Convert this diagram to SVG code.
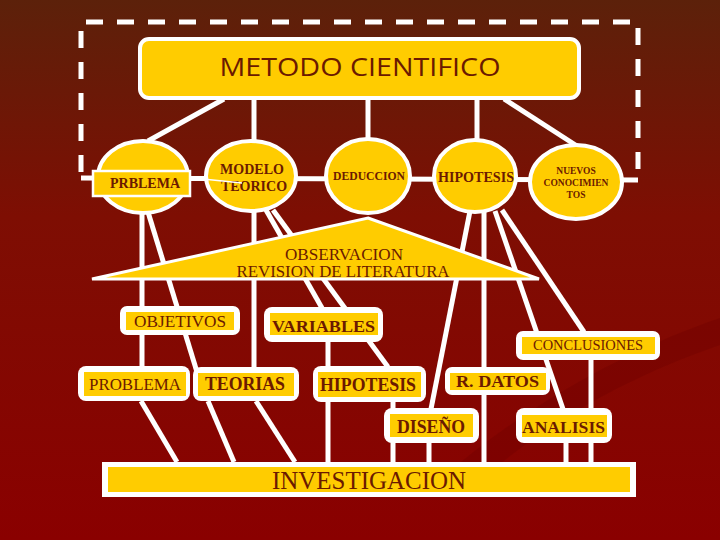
<svg xmlns="http://www.w3.org/2000/svg" width="720" height="540" viewBox="0 0 720 540">
<defs>
<linearGradient id="bg" x1="0" y1="0" x2="0" y2="1">
<stop offset="0" stop-color="#5C210A"/>
<stop offset="0.4" stop-color="#7E0E03"/>
<stop offset="1" stop-color="#8A0000"/>
</linearGradient>
<style>
.ln{stroke:#FFFFFF;stroke-width:5;fill:none}
.ell{fill:#FFCC00;stroke:#FFFFFF;stroke-width:4}
.out{fill:#FFFFFF}
.inn{fill:#FFCC00}
.t{font-family:"Liberation Serif","Times New Roman",serif;fill:#6B1A00;text-anchor:middle}
.b{font-weight:bold}
</style>
</defs>
<rect x="0" y="0" width="720" height="540" fill="url(#bg)"/>
<path d="M 440,480 C 530,400 640,345 720,318 L 720,345 C 640,372 545,420 470,490 Z" fill="#6E0000" opacity="0.35"/>

<path d="M 81,172 V 22 H 638 V 175" fill="none" stroke="#FFFFFF" stroke-width="5" stroke-dasharray="17 14"/>

<g id="connectors">
<line class="ln" x1="81" y1="178" x2="638" y2="180"/>
<line class="ln" x1="224" y1="99" x2="148" y2="141"/>
<line class="ln" x1="254" y1="99" x2="254" y2="141"/>
<line class="ln" x1="368" y1="99" x2="368" y2="140"/>
<line class="ln" x1="477" y1="99" x2="477" y2="140"/>
<line class="ln" x1="504" y1="99" x2="577" y2="146"/>
<line class="ln" x1="142" y1="212" x2="142" y2="367"/>
<line class="ln" x1="148" y1="212" x2="197" y2="372"/>
<line class="ln" x1="254" y1="210" x2="254" y2="368"/>
<line class="ln" x1="266" y1="210" x2="322" y2="308"/>
<line class="ln" x1="273" y1="210" x2="388" y2="367"/>
<line class="ln" x1="328" y1="342" x2="328" y2="462"/>
<line class="ln" x1="393" y1="402" x2="393" y2="462"/>
<line class="ln" x1="470" y1="211" x2="431" y2="409"/>
<line class="ln" x1="429" y1="443" x2="429" y2="462"/>
<line class="ln" x1="484" y1="211" x2="484" y2="462"/>
<line class="ln" x1="495" y1="211" x2="563" y2="409"/>
<line class="ln" x1="502" y1="210" x2="584" y2="332"/>
<line class="ln" x1="591" y1="360" x2="591" y2="462"/>
<line class="ln" x1="566" y1="443" x2="566" y2="462"/>
<line class="ln" x1="141" y1="401" x2="177" y2="462"/>
<line class="ln" x1="208" y1="401" x2="234" y2="462"/>
<line class="ln" x1="256" y1="401" x2="295" y2="462"/>
</g>

<g id="metodo">
<rect x="140" y="39" width="439" height="59" rx="9" fill="#FFCC00" stroke="#FFFFFF" stroke-width="4"/>
<text x="360" y="76" font-family="'Open Sans','Noto Sans',sans-serif" font-size="25" fill="#6B1A00" text-anchor="middle" textLength="281" lengthAdjust="spacingAndGlyphs">METODO CIENTIFICO</text>
</g>

<g id="prblema">
<ellipse class="ell" cx="143" cy="177" rx="45" ry="36"/>
<rect x="93" y="171" width="97" height="25" fill="#FFCC00" stroke="#FFFFFF" stroke-width="2.5"/>
<text class="t b" x="145" y="188" font-size="14">PRBLEMA</text>
</g>

<g id="modelo">
<ellipse class="ell" cx="251" cy="176" rx="45" ry="35"/>
<text class="t b" x="252" y="174" font-size="14">MODELO</text>
<text class="t b" x="254" y="191" font-size="14">TEORICO</text>
<line x1="193" y1="178" x2="242" y2="183" stroke="#FFFFFF" stroke-width="1.5"/>
</g>

<g id="deduccion">
<ellipse class="ell" cx="368" cy="176" rx="42" ry="37"/>
<text class="t b" x="369" y="180" font-size="12" textLength="72" lengthAdjust="spacingAndGlyphs">DEDUCCION</text>
</g>

<g id="hipotesis1">
<ellipse class="ell" cx="475" cy="176" rx="41" ry="36"/>
<text class="t b" x="476" y="182" font-size="14" textLength="76" lengthAdjust="spacingAndGlyphs">HIPOTESIS</text>
</g>

<g id="nuevos">
<ellipse class="ell" cx="576" cy="182" rx="46" ry="37"/>
<text class="t b" x="576" y="174" font-size="9.5">NUEVOS</text>
<text class="t b" x="576" y="186" font-size="9.5">CONOCIMIEN</text>
<text class="t b" x="576" y="198" font-size="9.5">TOS</text>
</g>

<g id="observacion">
<polygon points="368,218 539,279 92,279" fill="#FFCC00" stroke="#FFFFFF" stroke-width="3" stroke-linejoin="miter"/>
<text class="t" x="344" y="260" font-size="16" textLength="118" lengthAdjust="spacingAndGlyphs">OBSERVACION</text>
<text class="t" x="343" y="277" font-size="16" textLength="213" lengthAdjust="spacingAndGlyphs">REVISION DE LITERATURA</text>
</g>

<g id="objetivos">
<rect class="out" x="120" y="306" width="120" height="29" rx="7"/>
<rect class="inn" x="126" y="312" width="108" height="18"/>
<text class="t" x="180" y="326.5" font-size="16" textLength="92" lengthAdjust="spacingAndGlyphs">OBJETIVOS</text>
</g>

<g id="variables">
<rect class="out" x="264" y="307" width="119" height="35" rx="8"/>
<rect class="inn" x="270" y="313" width="108" height="22"/>
<text class="t b" x="323.5" y="332" font-size="17.5" textLength="103" lengthAdjust="spacingAndGlyphs">VARIABLES</text>
</g>

<g id="conclusiones">
<rect class="out" x="516" y="331" width="144" height="29" rx="7"/>
<rect class="inn" x="522" y="337" width="133" height="17"/>
<text class="t" x="588" y="350" font-size="14.5" textLength="110" lengthAdjust="spacingAndGlyphs">CONCLUSIONES</text>
</g>

<g id="problema">
<rect class="out" x="78" y="366" width="112" height="35" rx="8"/>
<rect class="inn" x="84" y="372" width="102" height="24"/>
<text class="t" x="135" y="390" font-size="17" textLength="92" lengthAdjust="spacingAndGlyphs">PROBLEMA</text>
</g>

<g id="teorias">
<rect class="out" x="193" y="367" width="106" height="34" rx="8"/>
<rect class="inn" x="198" y="373" width="96" height="23"/>
<text class="t b" x="245" y="390" font-size="18" textLength="80" lengthAdjust="spacingAndGlyphs">TEORIAS</text>
</g>

<g id="hipotesis2">
<rect class="out" x="313" y="366" width="113" height="36" rx="8"/>
<rect class="inn" x="318" y="372" width="103" height="25"/>
<text class="t b" x="368" y="391" font-size="18" textLength="96" lengthAdjust="spacingAndGlyphs">HIPOTESIS</text>
</g>

<g id="rdatos">
<rect class="out" x="445" y="367" width="105" height="28" rx="7"/>
<rect class="inn" x="450" y="373" width="96" height="17"/>
<text class="t b" x="497.5" y="387" font-size="17" textLength="83" lengthAdjust="spacingAndGlyphs">R. DATOS</text>
</g>

<g id="diseno">
<rect class="out" x="384" y="408" width="95" height="35" rx="8"/>
<rect class="inn" x="390" y="414" width="83" height="23"/>
<text class="t b" x="431" y="433" font-size="18" textLength="68" lengthAdjust="spacingAndGlyphs">DISEÑO</text>
</g>

<g id="analisis">
<rect class="out" x="516" y="408" width="96" height="35" rx="8"/>
<rect class="inn" x="522" y="415" width="85" height="22"/>
<text class="t b" x="563.5" y="433" font-size="17.5" textLength="83" lengthAdjust="spacingAndGlyphs">ANALISIS</text>
</g>

<g id="investigacion">
<rect class="out" x="102" y="462" width="534" height="35"/>
<rect class="inn" x="108" y="467" width="522" height="25"/>
<text class="t" x="369" y="489" font-size="25" textLength="194" lengthAdjust="spacingAndGlyphs">INVESTIGACION</text>
</g>
</svg>
